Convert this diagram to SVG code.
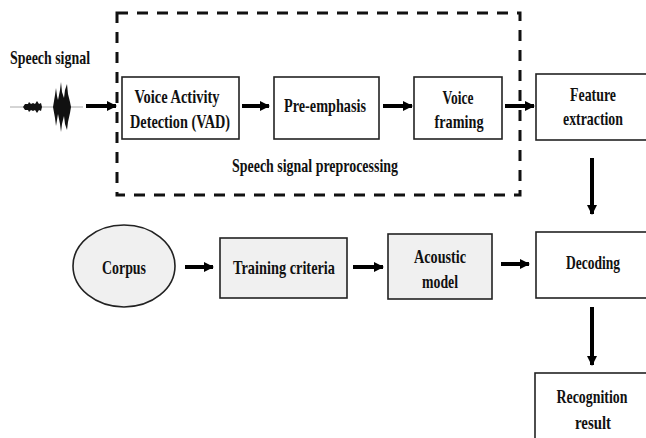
<svg xmlns="http://www.w3.org/2000/svg" width="646" height="438" viewBox="0 0 646 438">
<defs>
<marker id="ah" viewBox="0 0 10 10" refX="9" refY="5" markerWidth="2.6" markerHeight="2.8" orient="auto" markerUnits="strokeWidth">
<path d="M0,0 L10,5 L0,10 Z" fill="#000"/>
</marker>
<style>
text{font-family:"Liberation Serif","Times New Roman",serif;font-weight:bold;font-size:19px;fill:#111;text-anchor:middle}
.box{fill:#fff;stroke:#222;stroke-width:1.6}
.gbox{fill:#f0f0f0;stroke:#222;stroke-width:1.6}
.arr{stroke:#000;stroke-width:4;fill:none;marker-end:url(#ah)}
</style>
</defs>
<rect width="646" height="438" fill="#fff"/>
<g id="preprocessing">
<rect x="117" y="13" width="403" height="182" fill="none" stroke="#111" stroke-width="3" stroke-dasharray="11 9"/>
<text x="315" y="172" textLength="166" lengthAdjust="spacingAndGlyphs">Speech signal preprocessing</text>
</g>
<g id="speech">
<text x="50" y="64" textLength="80" lengthAdjust="spacingAndGlyphs">Speech signal</text>
<line x1="10" y1="107" x2="83" y2="107" stroke="#aaa" stroke-width="1"/>
<path d="M23,107 L25,104 L28,104 L29,102 L31,104 L33,103 L35,104 L37,101 L39,104 L41,103 L42,107 L41,111 L39,110 L37,113 L35,110 L33,111 L31,110 L29,112 L28,110 L25,110 Z" fill="#111"/>
<path d="M53,107 L55,95 L56,88 L57,96 L58,100 L60,90 L61,82 L62,92 L64,98 L65,90 L67,84 L68,94 L70,102 L71,107 L70,113 L68,122 L67,130 L65,124 L64,116 L62,124 L61,132 L60,124 L58,114 L57,120 L56,126 L55,118 Z" fill="#111"/>
</g>
<g id="vad"><rect class="box" x="122" y="77" width="117" height="62"/>
<text x="177" y="103" textLength="85" lengthAdjust="spacingAndGlyphs">Voice Activity</text>
<text x="180" y="128" textLength="100" lengthAdjust="spacingAndGlyphs">Detection (VAD)</text></g>
<g id="preemph"><rect class="box" x="274" y="77" width="105" height="62"/>
<text x="325" y="112" textLength="82" lengthAdjust="spacingAndGlyphs">Pre-emphasis</text></g>
<g id="framing"><rect class="box" x="414" y="77" width="88" height="62"/>
<text x="458" y="104" textLength="31" lengthAdjust="spacingAndGlyphs">Voice</text>
<text x="459" y="128" textLength="49" lengthAdjust="spacingAndGlyphs">framing</text></g>
<g id="feature"><rect class="box" x="536" y="74" width="114" height="66"/>
<text x="593" y="101" textLength="46" lengthAdjust="spacingAndGlyphs">Feature</text>
<text x="593" y="125" textLength="60" lengthAdjust="spacingAndGlyphs">extraction</text></g>
<g id="corpus"><ellipse cx="124" cy="266" rx="51" ry="41" fill="#f0f0f0" stroke="#222" stroke-width="1.6"/>
<text x="124" y="274" textLength="44" lengthAdjust="spacingAndGlyphs">Corpus</text></g>
<g id="training"><rect class="gbox" x="220" y="238" width="127" height="60"/>
<text x="284" y="274" textLength="102" lengthAdjust="spacingAndGlyphs">Training criteria</text></g>
<g id="acoustic"><rect class="gbox" x="388" y="234" width="104" height="65"/>
<text x="440" y="263" textLength="52" lengthAdjust="spacingAndGlyphs">Acoustic</text>
<text x="440" y="288" textLength="36" lengthAdjust="spacingAndGlyphs">model</text></g>
<g id="decoding"><rect class="box" x="536" y="232" width="114" height="66"/>
<text x="593" y="269" textLength="54" lengthAdjust="spacingAndGlyphs">Decoding</text></g>
<g id="result"><rect class="box" x="535" y="373" width="115" height="70"/>
<text x="592" y="403" textLength="71" lengthAdjust="spacingAndGlyphs">Recognition</text>
<text x="593" y="429" textLength="36" lengthAdjust="spacingAndGlyphs">result</text></g>
<g id="connectors">
<line class="arr" x1="86" y1="106" x2="116" y2="106"/>
<line class="arr" x1="242" y1="106" x2="269" y2="106"/>
<line class="arr" x1="383" y1="106" x2="412" y2="106"/>
<line class="arr" x1="505" y1="106" x2="534" y2="106"/>
<line class="arr" x1="592" y1="158" x2="592" y2="214"/>
<line class="arr" x1="185" y1="267" x2="213" y2="267"/>
<line class="arr" x1="353" y1="267" x2="383" y2="267"/>
<line class="arr" x1="501" y1="264" x2="529" y2="264"/>
<line class="arr" x1="592" y1="307" x2="592" y2="365"/>
</g>
</svg>
